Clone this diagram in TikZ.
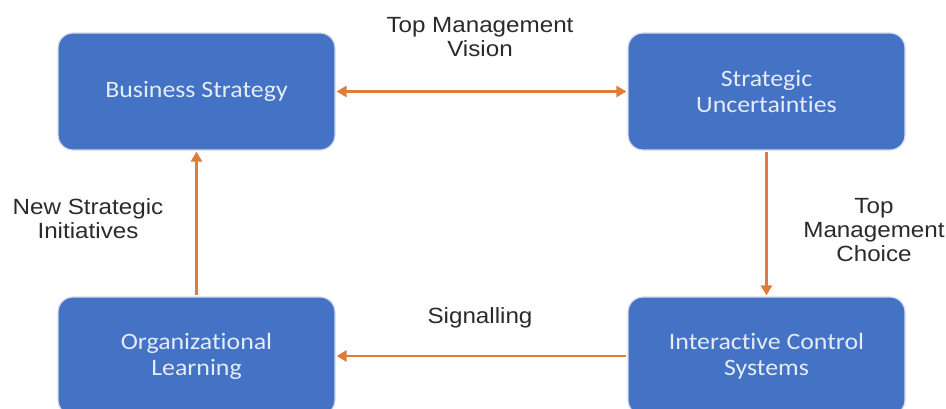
\documentclass[tikz,border=0pt]{standalone}
\usepackage{fontspec}
\setmainfont{Liberation Sans}[FakeStretch=1.1]
\newfontfamily\boxfont{Carlito}[FakeStretch=1.1, Ligatures=NoCommon]
\usetikzlibrary{arrows.meta}
\definecolor{boxblue}{HTML}{4472C4}
\definecolor{boxedge}{HTML}{D2DCEE}
\definecolor{boxtext}{HTML}{E6ECF7}
\definecolor{flow}{HTML}{E07B39}
\definecolor{labeltext}{HTML}{2B2B2B}
\begin{document}
\begin{tikzpicture}[x=1pt,y=-1pt,
  block/.style={rectangle, rounded corners=15pt, fill=boxblue, draw=boxedge,
    line width=1.2pt, minimum width=277pt, minimum height=117pt,
    text=boxtext, font=\boxfont\fontsize{23.5}{26}\selectfont,
    align=center, inner sep=0pt},
  lbl/.style={text=labeltext, font=\fontsize{22}{24}\selectfont,
    align=center, inner sep=0pt},
  flowline/.style={draw=flow, line width=2.7pt,
    -{Triangle[length=10pt,width=11pt]}, shorten >=1pt, shorten <=1pt},
  flowboth/.style={flowline, {Triangle[length=10pt,width=11pt]}-{Triangle[length=10pt,width=11pt]}}]
  \useasboundingbox (0,0) rectangle (946,408);
  \clip (0,0) rectangle (946,408);
  \fill[white] (0,0) rectangle (946,408);

  % the four blocks of the control loop
  \node[block] (bs)  at (196.5,91.5) {Business Strategy};
  \node[block] (su)  at (766.5,91.5) {Strategic\\Uncertainties};
  \node[block, minimum height=118pt] (ol)  at (196.5,356) {Organizational\\Learning};
  \node[block, minimum height=118pt] (ics) at (766.5,356) {Interactive Control\\Systems};

  % connectors
  \draw[flowboth] (bs.east) -- (su.west);
  \draw[flowline] (su.south) -- (ics.north);
  \draw[flowline] (ics.west) -- (ol.east);
  \draw[flowline] (ol.north) -- (bs.south);

  % connector labels
  \node[lbl] (vision)  at (480,37)  {Top Management\\Vision};
  \node[lbl] (choice)  at (874,230) {Top\\Management\\Choice};
  \node[lbl] (signal)  at (480,318) {Signalling};
  \node[lbl] (initia)  at (88,219)  {New Strategic\\Initiatives};
\end{tikzpicture}
\end{document}
